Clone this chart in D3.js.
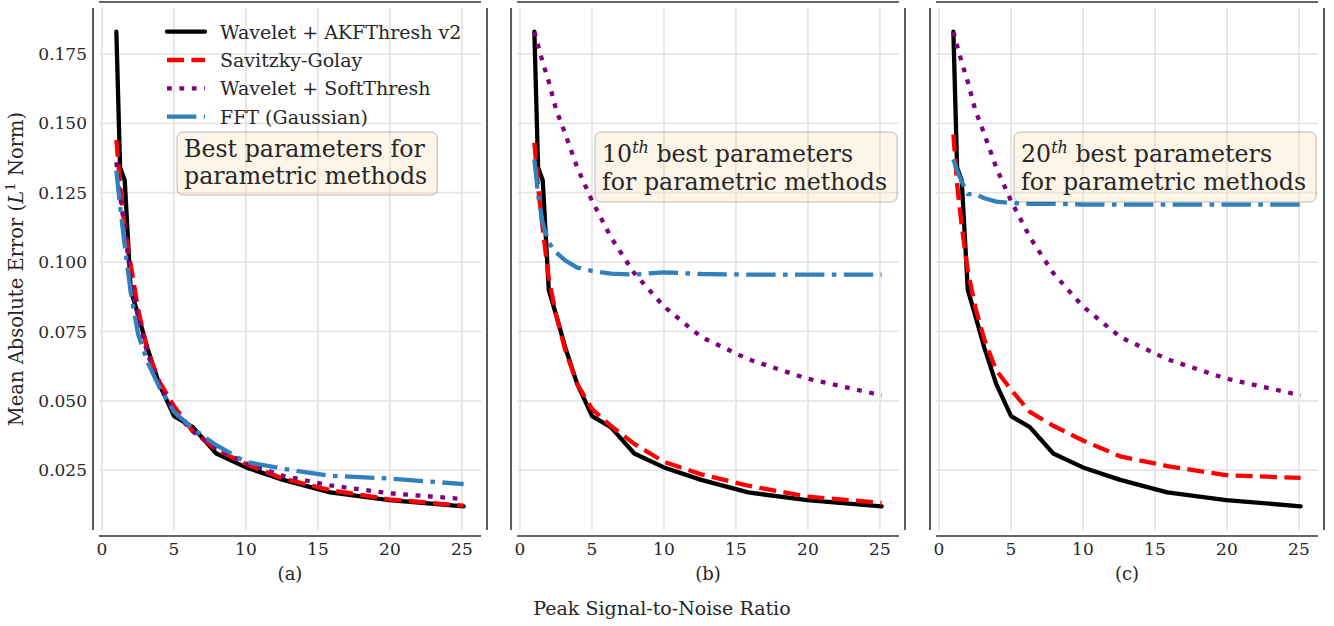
<!DOCTYPE html>
<html><head><meta charset="utf-8">
<script src="https://cdn.jsdelivr.net/npm/d3@7"></script>
<style>
body{margin:0;background:#fff}
text{font-family:"DejaVu Serif",serif;fill:#262626}
</style>
</head><body>
<svg id="chart" width="1334" height="626"></svg>
<script>
// ---------- data ----------
const psnr = [1.0, 1.26, 1.58, 2.0, 2.51, 3.16, 3.98, 5.01, 6.31, 7.94, 10.0, 12.59, 15.85, 19.95, 25.12];
const seriesNames = ["Wavelet + AKFThresh v2", "Savitzky-Golay", "Wavelet + SoftThresh", "FFT (Gaussian)"];
const akfThresh = [0.183, 0.134, 0.1295, 0.090, 0.081, 0.069, 0.056, 0.0445, 0.0405, 0.031, 0.026, 0.0215, 0.017, 0.0142, 0.012];
const savgolA = [0.144, 0.128, 0.112, 0.099, 0.083, 0.068, 0.057, 0.048, 0.039, 0.0325, 0.0272, 0.022, 0.0178, 0.0145, 0.0122];
const savgolB = [0.143, 0.127, 0.112, 0.094, 0.081, 0.068, 0.056, 0.047, 0.041, 0.0345, 0.028, 0.0235, 0.0194, 0.0155, 0.0132];
const savgolC = [0.146, 0.128, 0.113, 0.097, 0.084, 0.072, 0.061, 0.054, 0.046, 0.041, 0.0357, 0.030, 0.0265, 0.0232, 0.0222];
const softA = [0.136, 0.124, 0.112, 0.094, 0.080, 0.067, 0.056, 0.046, 0.039, 0.033, 0.0275, 0.023, 0.0195, 0.0167, 0.0146];
const softB = [0.183, 0.178, 0.172, 0.165, 0.155, 0.146, 0.134, 0.122, 0.109, 0.096, 0.084, 0.073, 0.065, 0.058, 0.052];
const softC = [0.183, 0.178, 0.172, 0.165, 0.155, 0.146, 0.134, 0.122, 0.109, 0.096, 0.084, 0.073, 0.065, 0.058, 0.052];
const fftA = [0.133, 0.120, 0.106, 0.089, 0.074, 0.064, 0.055, 0.046, 0.040, 0.034, 0.028, 0.0255, 0.023, 0.022, 0.020];
const fftB = [0.137, 0.124, 0.114, 0.107, 0.1035, 0.1005, 0.098, 0.0968, 0.0958, 0.0955, 0.0963, 0.0957, 0.0955, 0.0955, 0.0955];
const fftC = [0.137, 0.133, 0.129, 0.1245, 0.1245, 0.123, 0.1218, 0.1213, 0.121, 0.121, 0.1207, 0.1207, 0.1207, 0.1207, 0.1207];
const xTicks = [0, 5, 10, 15, 20, 25];
const yTicks = [0.025, 0.050, 0.075, 0.100, 0.125, 0.150, 0.175];
const panelLabels = ["(a)", "(b)", "(c)"];
const noteRanks = [null, "10", "20"];

// ---------- layout ----------
const svg = d3.select("#chart");
const colors = ["#000000", "#ff0000", "#800080", "#3080bd"];
const dashes = [null, "17,7.4", "4.8,7.6", "29.4,7.4,4.6,7.4"];
const lw = 4.3;
const panelLefts = [99, 517, 936];
const pw = 382, plotTop = 8, plotBottom = 530, off = 6;

const xmin = d3.min(psnr), xmax = d3.max(psnr);
const xm = (xmax - xmin) * 0.05;
const allY = [].concat(akfThresh, savgolA, savgolB, savgolC, softA, softB, softC, fftA, fftB, fftC);
const ymin = d3.min(allY), ymax = d3.max(allY);
const ym = (ymax - ymin) * 0.05;
const y = d3.scaleLinear().domain([ymin - ym, ymax + ym]).range([plotBottom, plotTop]);

const panelSeries = [
  [akfThresh, savgolA, softA, fftA],
  [akfThresh, savgolB, softB, fftB],
  [akfThresh, savgolC, softC, fftC]
];

panelSeries.forEach((series, pi) => {
  const left = panelLefts[pi];
  const x = d3.scaleLinear().domain([xmin - xm, xmax + xm]).range([left, left + pw]);
  const g = svg.append("g");

  // grid
  g.selectAll(".gx").data(xTicks).join("line")
    .attr("x1", d => x(d)).attr("x2", d => x(d)).attr("y1", plotTop).attr("y2", plotBottom)
    .attr("stroke", "#e5e5e5").attr("stroke-width", 1.8);
  g.selectAll(".gy").data(yTicks).join("line")
    .attr("x1", left).attr("x2", left + pw).attr("y1", d => y(d)).attr("y2", d => y(d))
    .attr("stroke", "#e5e5e5").attr("stroke-width", 1.8);

  // spines (offset)
  const sp = g.append("g").attr("stroke", "#333").attr("stroke-width", 1.6);
  sp.append("line").attr("x1", left - off).attr("x2", left - off).attr("y1", plotTop).attr("y2", plotBottom);
  sp.append("line").attr("x1", left + pw + off).attr("x2", left + pw + off).attr("y1", plotTop).attr("y2", plotBottom);
  sp.append("line").attr("x1", left).attr("x2", left + pw).attr("y1", plotTop - off).attr("y2", plotTop - off);
  sp.append("line").attr("x1", left).attr("x2", left + pw).attr("y1", plotBottom + off).attr("y2", plotBottom + off);

  // x tick labels
  g.selectAll(".xt").data(xTicks).join("text")
    .attr("x", d => x(d)).attr("y", 555).attr("text-anchor", "middle")
    .attr("font-size", 17).text(d => d3.format("d")(d));

  if (pi === 0) {
    g.selectAll(".yt").data(yTicks).join("text")
      .attr("x", left - 12).attr("y", d => y(d)).attr("dy", "0.36em")
      .attr("text-anchor", "end").attr("font-size", 17).text(d => d3.format(".3f")(d));
  }

  // lines
  const line = d3.line().x((d, i) => x(psnr[i])).y(d => y(d));
  series.forEach((s, si) => {
    g.append("path").datum(s).attr("d", line)
      .attr("fill", "none").attr("stroke", colors[si]).attr("stroke-width", lw)
      .attr("stroke-linejoin", "round")
      .attr("stroke-linecap", si === 0 ? "round" : "butt")
      .attr("stroke-dasharray", dashes[si]);
  });

  // annotation box
  const bx = left + 78, by = 132;
  const nb = g.append("g");
  const rect = nb.append("rect").attr("x", bx).attr("y", by).attr("rx", 6).attr("ry", 6)
    .attr("fill", "#f5deb3").attr("fill-opacity", 0.3)
    .attr("stroke", "#000").attr("stroke-opacity", 0.25).attr("stroke-width", 1);
  const tx = bx + 7;
  let t1, t2, h;
  if (noteRanks[pi] === null) {
    t1 = nb.append("text").attr("x", tx).attr("y", by + 25).attr("font-size", 23.7).text("Best parameters for");
    t2 = nb.append("text").attr("x", tx).attr("y", by + 51.5).attr("font-size", 23.7).text("parametric methods");
    h = 63;
  } else {
    t1 = nb.append("text").attr("x", tx).attr("y", by + 30).attr("font-size", 23.7);
    t1.append("tspan").text(noteRanks[pi]);
    t1.append("tspan").attr("font-style", "italic").attr("font-size", 16).attr("dy", -9).text("th");
    t1.append("tspan").attr("dy", 9).text(" best parameters");
    t2 = nb.append("text").attr("x", tx).attr("y", by + 58).attr("font-size", 23.7).text("for parametric methods");
    h = 70;
  }
  const tw = Math.max(t1.node().getComputedTextLength(), t2.node().getComputedTextLength());
  rect.attr("width", tw + 17).attr("height", h);

  // panel label
  g.append("text").attr("x", left + pw / 2).attr("y", 580).attr("text-anchor", "middle")
    .attr("font-size", 18).text(panelLabels[pi]);
});

// legend (panel a)
const lg = svg.append("g");
seriesNames.forEach((name, i) => {
  const cy = 31.7 + i * 28.3;
  lg.append("line").attr("x1", 167).attr("x2", 205).attr("y1", cy).attr("y2", cy)
    .attr("stroke", colors[i]).attr("stroke-width", lw)
    .attr("stroke-linecap", i === 0 ? "round" : "butt")
    .attr("stroke-dasharray", dashes[i]);
  lg.append("text").attr("x", 220).attr("y", cy + 7).attr("font-size", 19).text(name);
});

// axis titles
const yl = svg.append("text").attr("transform", "translate(23,269) rotate(-90)")
  .attr("text-anchor", "middle").attr("font-size", 19.5);
yl.append("tspan").text("Mean Absolute Error (");
yl.append("tspan").attr("font-style", "italic").text("L");
yl.append("tspan").attr("font-size", 13.5).attr("dy", -8).text("1");
yl.append("tspan").attr("dy", 8).text(" Norm)");

svg.append("text").attr("x", 662).attr("y", 615).attr("text-anchor", "middle")
  .attr("font-size", 19).text("Peak Signal-to-Noise Ratio");
</script>
</body></html>
